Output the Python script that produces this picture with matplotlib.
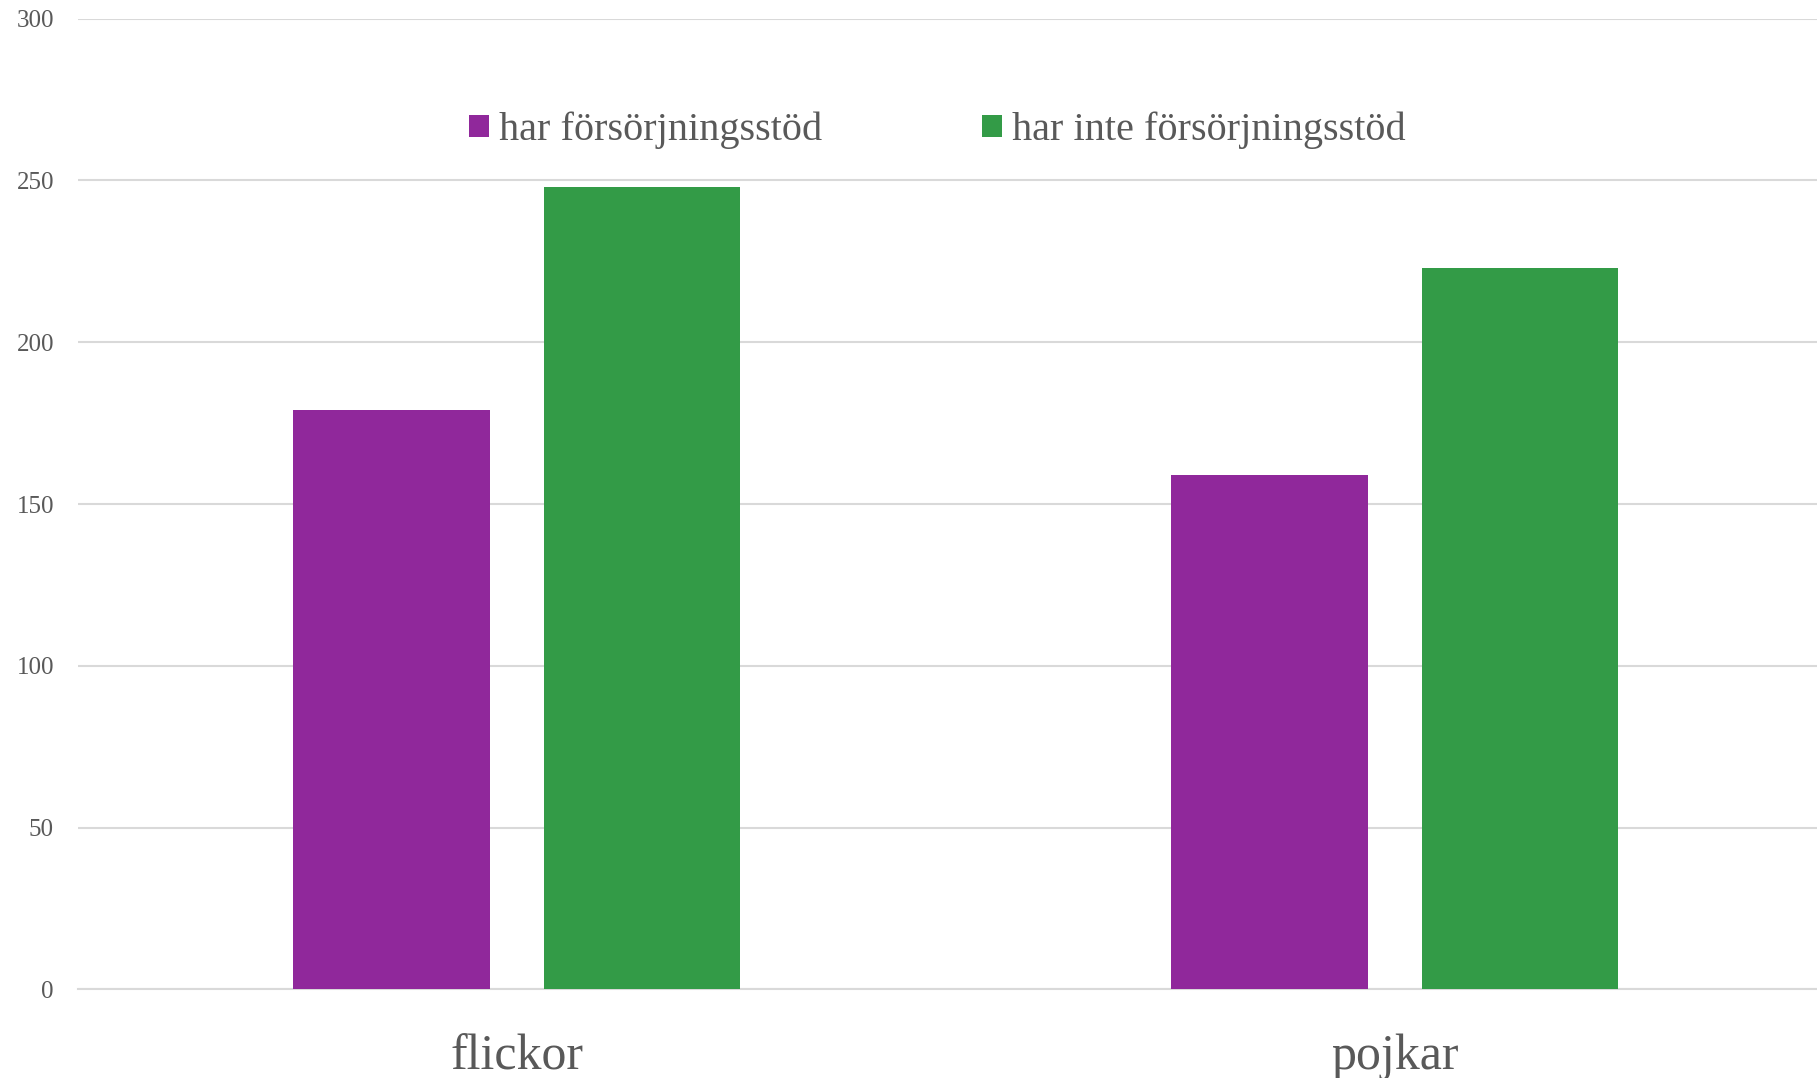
import numpy as np
import matplotlib.pyplot as plt

categories = ["flickor", "pojkar"]
series_names = ["har försörjningsstöd", "har inte försörjningsstöd"]
har_stod = [179, 159]
har_inte_stod = [248, 223]
colors = ["#90289b", "#339b47"]

plt.rcParams['font.family'] = ['Liberation Serif', 'DejaVu Serif']
text_color = "#595959"

fig = plt.figure(figsize=(18.17, 10.78), dpi=100)
ax = fig.add_axes([0.0427, 0.0821, 1 - 0.0427, 0.9828 - 0.0821])

x = np.arange(len(categories))
width = 0.224
offset = 0.1427
ax.bar(x - offset, har_stod, width, color=colors[0], label=series_names[0], zorder=3)
ax.bar(x + offset, har_inte_stod, width, color=colors[1], label=series_names[1], zorder=3)

ax.set_ylim(0, 300)
ax.set_xlim(-0.5, 1.481)
ax.set_yticks(np.arange(0, 301, 50))
ax.yaxis.grid(True, color="#d9d9d9", linewidth=1.5, zorder=0)
ax.set_axisbelow(True)
for s in ["top", "right", "left"]:
    ax.spines[s].set_visible(False)
ax.spines["bottom"].set_color("#d9d9d9")
ax.spines["bottom"].set_linewidth(1.5)

ax.set_xticks(x)
ax.set_xticklabels(categories)
ax.tick_params(axis="y", length=0, pad=17, labelsize=18, labelcolor=text_color)
ax.tick_params(axis="x", length=0, pad=32, labelsize=36, labelcolor=text_color)

ax.legend(loc="center", bbox_to_anchor=(0.516, 0.879), bbox_transform=fig.transFigure,
          ncol=2, frameon=False, fontsize=29, labelcolor=text_color,
          handlelength=0.49, handleheight=0.49, handletextpad=0.26, columnspacing=3.97)

fig.savefig("out.png", dpi=100)
